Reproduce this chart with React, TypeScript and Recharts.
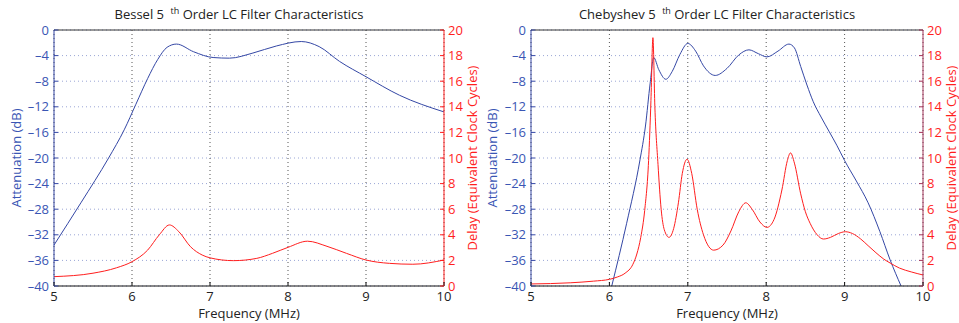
import React from "react"
import { LineChart, Line, XAxis, YAxis, CartesianGrid, ReferenceLine } from "recharts"

const freqTicks = [5, 6, 7, 8, 9, 10]
const attTicks = [-40, -36, -32, -28, -24, -20, -16, -12, -8, -4, 0]
const delayTicks = [0, 2, 4, 6, 8, 10, 12, 14, 16, 18, 20]

const besselAttFreq = [5.0, 5.35, 5.7, 5.9, 6.05, 6.2, 6.33, 6.45, 6.57, 6.79, 7.04, 7.25, 7.55, 7.85, 8.17, 8.4, 8.66, 9.0, 9.43, 10]
const besselAtt = [-33.6, -26.9, -20.0, -15.6, -11.6, -7.6, -4.6, -2.7, -2.2, -3.4, -4.3, -4.4, -3.6, -2.5, -1.8, -2.6, -4.9, -7.3, -10.2, -12.8]

const besselDelayFreq = [5.0, 5.5, 5.8, 6.0, 6.2, 6.35, 6.48, 6.6, 6.75, 6.9, 7.0, 7.3, 7.6, 7.8, 8.0, 8.25, 8.5, 8.75, 9.0, 9.3, 9.6, 10]
const besselDelay = [0.73, 1.0, 1.42, 1.9, 2.8, 4.0, 4.77, 4.25, 3.07, 2.42, 2.2, 1.98, 2.16, 2.55, 3.02, 3.5, 3.1, 2.55, 2.03, 1.77, 1.7, 2.03]

const chebAttFreq = [6.03, 6.22, 6.39, 6.46, 6.52, 6.565, 6.63, 6.72, 6.8, 6.9, 7.0, 7.1, 7.2, 7.35, 7.5, 7.65, 7.78, 7.9, 8.01, 8.15, 8.29, 8.36, 8.44, 8.52, 8.6, 8.7, 8.8, 8.9, 9.0, 9.15, 9.3, 9.45, 9.58, 9.72]
const chebAtt = [-40, -30.2, -20.3, -15, -8.3, -4.3, -6.2, -7.7, -6.5, -3.8, -2.1, -3.3, -5.6, -7.1, -6.0, -3.9, -3.1, -3.7, -4.2, -3.3, -2.2, -2.8, -5.7, -8.6, -11.2, -13.6, -15.8, -18.0, -20.4, -23.6, -27.0, -31.5, -35.9, -40]

const chebDelayFreq = [5.0, 5.5, 5.8, 6.0, 6.1, 6.2, 6.3, 6.35, 6.4, 6.45, 6.5, 6.53, 6.555, 6.58, 6.62, 6.66, 6.7, 6.76, 6.82, 6.88, 6.93, 6.99, 7.05, 7.12, 7.2, 7.33, 7.45, 7.55, 7.65, 7.74, 7.82, 7.92, 8.01, 8.1, 8.2, 8.27, 8.31, 8.36, 8.44, 8.5, 8.56, 8.65, 8.73, 8.82, 8.92, 9.01, 9.1, 9.2, 9.3, 9.4, 9.5, 9.58, 9.7, 9.85, 10]
const chebDelay = [0.16, 0.25, 0.38, 0.52, 0.7, 1.0, 1.7, 2.5, 3.8, 5.9, 9.8, 14.5, 19.4, 14, 9.5, 6.0, 4.4, 3.8, 4.5, 6.5, 8.8, 9.9, 8.8, 6.0, 4.0, 2.8, 3.2, 4.3, 5.8, 6.5, 6.0, 5.0, 4.58, 5.2, 7.5, 9.8, 10.4, 9.6, 7.2, 5.8, 4.9, 4.0, 3.67, 3.8, 4.1, 4.24, 4.1, 3.7, 3.15, 2.6, 2.1, 1.8, 1.4, 1.1, 0.86]

const BLUE = "#3447a5"
const BLUE_TEXT = "#3a56b4"
const RED = "#ff1e1e"
const FONT = "'Open Sans', sans-serif"
const FS = 13

const zip = (f: number[], v: number[]) => f.map((x, i) => ({ f: x, v: v[i] }))
const fmt = (n: number) => (n < 0 ? "\u2013" + Math.abs(n) : String(n))

type Props = {
  name: string
  width: number
  leftW: number
  leftLabelOffset: number
  attData: { f: number; v: number }[]
  delayData: { f: number; v: number }[]
  rightAxisColor: string
}

const TOP = 30
const BOTTOM_AXIS_H = 37
const RIGHT_W = 36

function Panel({ name, width, leftW, leftLabelOffset, attData, delayData, rightAxisColor }: Props) {
  const height = 323
  const axisY = height - BOTTOM_AXIS_H
  const rightX = width - RIGHT_W

  const leftTick = (p: any) => (
    <g>
      <line x1={leftW} x2={leftW + 4} y1={p.y} y2={p.y} stroke={BLUE} />
      <text x={p.x} y={p.y} dy={4.5} textAnchor="end" fill={BLUE_TEXT} fontSize={FS} fontFamily={FONT}>
        {fmt(p.payload.value)}
      </text>
    </g>
  )
  const rightTick = (p: any) => (
    <g>
      <line x1={rightX} x2={rightX - 4} y1={p.y} y2={p.y} stroke={rightAxisColor} />
      <text x={p.x} y={p.y} dy={4.5} textAnchor="start" fill={RED} fontSize={FS} fontFamily={FONT}>
        {p.payload.value}
      </text>
    </g>
  )
  const bottomTick = (p: any) => (
    <g>
      <line x1={p.x} x2={p.x} y1={axisY} y2={axisY - 4} stroke="#111" />
      <text x={p.x} y={p.y} dy={13} textAnchor="middle" fill="#222" fontSize={FS} fontFamily={FONT}>
        {p.payload.value}
      </text>
    </g>
  )

  return (
    <div style={{ position: "relative", width, height }}>
      <div
        style={{
          position: "absolute",
          top: 2,
          left: leftW - 10,
          width: rightX - leftW,
          textAlign: "center",
          fontFamily: FONT,
          fontSize: FS,
          lineHeight: "18px",
          color: "#222",
          whiteSpace: "nowrap",
        }}
      >
        {name} 5{"\u2002"}<sup style={{ fontSize: 9, verticalAlign: 5 }}>th</sup>{" "}Order LC Filter Characteristics
      </div>
      <LineChart width={width} height={height} margin={{ top: TOP, right: 0, bottom: 0, left: 0 }}>
        <CartesianGrid yAxisId="att" vertical={false} stroke="#9aa6d6" strokeDasharray="1 3" />
        <CartesianGrid yAxisId="att" horizontal={false} stroke="#555" strokeDasharray="1 3" />
        <XAxis
          dataKey="f"
          type="number"
          domain={[5, 10]}
          ticks={freqTicks}
          height={BOTTOM_AXIS_H}
          axisLine={{ stroke: "#111" }}
          tickLine={false}
          tickSize={0}
          tickMargin={2}
          tick={bottomTick}
          label={{ value: "Frequency (MHz)", position: "insideBottom", offset: 5, fill: "#222", fontSize: FS, fontFamily: FONT }}
        />
        <YAxis
          yAxisId="att"
          orientation="left"
          width={leftW}
          domain={[-40, 0]}
          ticks={attTicks}
          allowDataOverflow
          axisLine={{ stroke: BLUE }}
          tickLine={false}
          tickSize={0}
          tickMargin={5}
          tick={leftTick}
          label={{ value: "Attenuation (dB)", angle: -90, position: "insideLeft", offset: leftLabelOffset, fill: BLUE_TEXT, fontSize: FS, fontFamily: FONT, style: { textAnchor: "middle" } }}
        />
        <YAxis
          yAxisId="delay"
          orientation="right"
          width={RIGHT_W}
          domain={[0, 20]}
          ticks={delayTicks}
          allowDataOverflow
          axisLine={{ stroke: rightAxisColor }}
          tickLine={false}
          tickSize={0}
          tickMargin={4}
          tick={rightTick}
          label={{ value: "Delay (Equivalent Clock Cycles)", angle: -90, position: "insideRight", offset: 8, fill: RED, fontSize: FS, fontFamily: FONT, style: { textAnchor: "middle" } }}
        />
        <ReferenceLine yAxisId="att" y={0} stroke="#333" />
        <Line yAxisId="att" data={attData} dataKey="v" type="monotone" stroke={BLUE} strokeWidth={1} dot={false} isAnimationActive={false} />
        <Line yAxisId="delay" data={delayData} dataKey="v" type="monotone" stroke={RED} strokeWidth={1} dot={false} isAnimationActive={false} />
      </LineChart>
    </div>
  )
}

export default function App() {
  return (
    <div style={{ position: "absolute", left: 0, top: 0, width: 959, height: 323, background: "#fff", display: "flex" }}>
      <Panel
        name="Bessel"
        width={480}
        leftW={54}
        leftLabelOffset={16}
        attData={zip(besselAttFreq, besselAtt)}
        delayData={zip(besselDelayFreq, besselDelay)}
        rightAxisColor={RED}
      />
      <Panel
        name="Chebyshev"
        width={479}
        leftW={51}
        leftLabelOffset={12}
        attData={zip(chebAttFreq, chebAtt)}
        delayData={zip(chebDelayFreq, chebDelay)}
        rightAxisColor="#a3355a"
      />
    </div>
  )
}
